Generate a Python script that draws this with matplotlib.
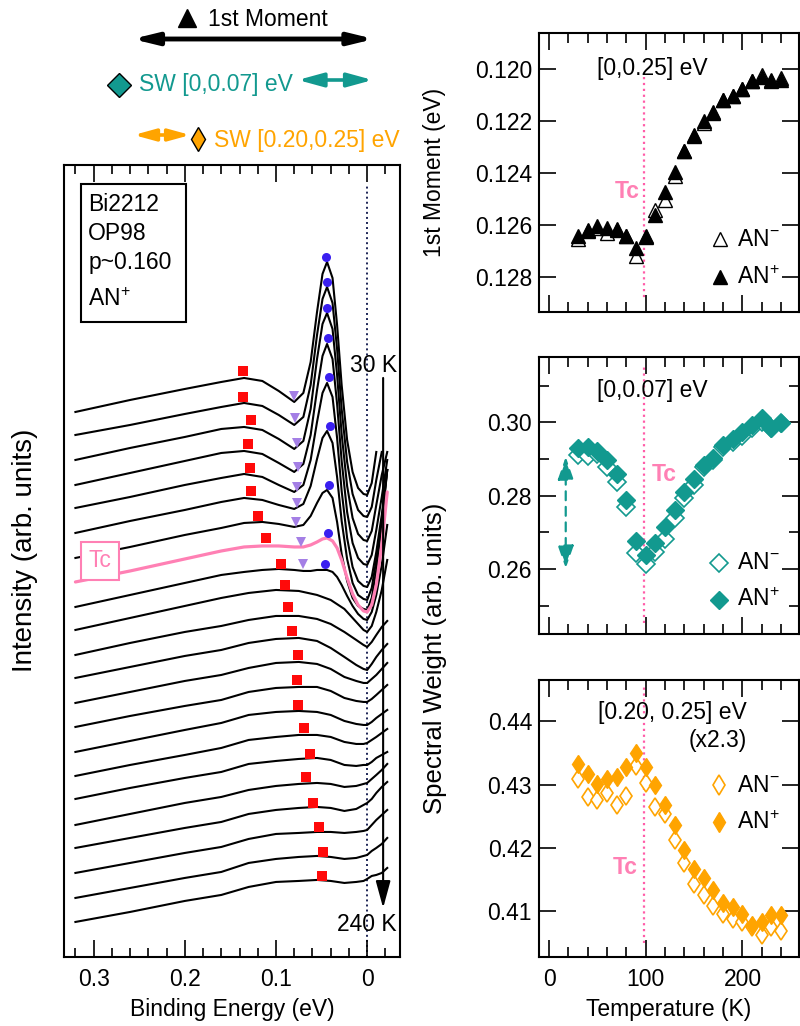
import numpy as np
import matplotlib
matplotlib.use("Agg")
import matplotlib.pyplot as plt
from matplotlib.transforms import blended_transform_factory
from matplotlib.patches import Rectangle
from matplotlib.ticker import MultipleLocator, FixedLocator

plt.rcParams['font.family'] = ['Liberation Sans', 'DejaVu Sans']
plt.rcParams['font.size'] = 16.5
plt.rcParams['mathtext.fontset'] = 'custom'
plt.rcParams['mathtext.rm'] = 'Liberation Sans'
plt.rcParams['mathtext.it'] = 'Liberation Sans:italic'
plt.rcParams['mathtext.bf'] = 'Liberation Sans:bold'
plt.rcParams['axes.linewidth'] = 1.5

nan = float('nan')

# ---------------- temperature-dependent quantities ----------------
T = [30, 40, 50, 60, 70, 80, 90, 100, 110, 120, 130, 140, 150, 160, 170, 180,
     190, 200, 210, 220, 230, 240]
Tc = 98

moment_plus = [0.12641, 0.12618, 0.12603, 0.12612, 0.12615, 0.12641, 0.12688, 0.12644,
               0.12560, 0.12474, 0.12397, 0.12317, 0.12256, 0.12201, 0.12169, 0.12118,
               0.12105, 0.12077, 0.12047, 0.12031, 0.12047, 0.12041]
moment_minus = [0.12656, 0.12624, 0.12612, 0.12631, 0.12618, 0.12644, 0.12721, 0.12646,
                0.12541, 0.12503, 0.12410, 0.12317, 0.12259, 0.12208, 0.12167, 0.12118,
                0.12105, 0.12077, 0.12047, 0.12022, 0.12041, 0.12035]

sw_low_plus = [0.2929, 0.2934, 0.2923, 0.2897, 0.2859, 0.2788, 0.2677, 0.2638, 0.2670,
               0.2715, 0.2761, 0.2809, 0.2845, 0.2884, 0.2902, 0.2938, 0.2956, 0.2975,
               0.2993, 0.3011, 0.2986, 0.2999]
sw_low_minus = [0.2911, 0.2908, 0.2914, 0.2879, 0.2838, 0.2770, 0.2645, 0.2615, 0.2647,
                0.2681, 0.2738, 0.2793, 0.2829, 0.2877, 0.2897, 0.2932, 0.2947, 0.2963,
                0.2984, 0.3002, 0.2986, 0.2997]

sw_high_plus = [0.4333, 0.4316, 0.4301, 0.4309, 0.4312, 0.4327, 0.4350, 0.4327, 0.4299,
                0.4267, 0.4236, 0.4196, 0.4167, 0.4153, 0.4134, 0.4113, 0.4107, 0.4095,
                0.4078, 0.4083, 0.4094, 0.4094]
sw_high_minus = [0.4309, 0.4281, 0.4275, 0.4286, 0.4267, 0.4282, 0.4329, 0.4302, 0.4265,
                 0.4253, 0.4213, 0.4176, 0.4143, 0.4125, 0.4108, 0.4096, 0.4087, 0.4083,
                 0.4075, 0.4062, 0.4075, 0.4069]

# ---------------- EDCs (offset stacked, arb. units) ----------------
E_sc = [0.32, 0.26, 0.20, 0.16, 0.135, 0.115, 0.097, 0.080, 0.070, 0.062, 0.055, 0.049,
        0.044, 0.038, 0.033, 0.028, 0.022, 0.016, 0.010, 0.004, 0.0, -0.005, -0.010,
        -0.016, -0.022]
I_030 = [545, 557, 568, 575, 579, 576, 566, 555, 564, 595, 645, 683, 695, 679, 632, 572, 517, 485, 469, 463, 462, 474, 505, nan, nan]
I_040 = [522, 532, 543, 550, 554, 551, 542, 532, 540, 572, 622, 658, 670, 654, 608, 548, 495, 463, 447, 441, 440, 450, 477, 505, nan]
I_050 = [497, 509, 520, 528, 530, 527, 518, 508, 516, 548, 598, 633, 644, 628, 582, 523, 471, 439, 423, 417, 416, 426, 452, 482, 505]
I_060 = [472, 484, 496, 504, 506, 503, 494, 485, 493, 522, 567, 601, 613, 598, 553, 496, 445, 414, 399, 393, 392, 402, 427, 460, 497]
I_070 = [449, 460, 472, 479, 483, 480, 472, 465, 472, 497, 535, 564, 574, 560, 519, 466, 419, 390, 376, 371, 370, 380, 405, 442, 487]
I_080 = [424, 436, 447, 455, 459, 457, 452, 448, 453, 471, 498, 519, 526, 514, 480, 436, 398, 374, 362, 358, 357, 369, 397, 437, 487]
I_090 = [399, 410, 422, 429, 434, 435, 433, 430, 432, 441, 454, 464, 467, 459, 435, 403, 376, 359, 351, 348, 347, 359, 387, 432, 487]
I_100 = [375, 386, 398, 406, 410, 411, 411, 410, 410, 412, 415, 418, 419, 416, 409, 397, 379, 363, 352, 346, 345, 352, 372, 412, 465]
I_110 = [350, 362, 374, 382, 385, 387, 388, 387, 386, 386, 387, 387, 387, 385, 380, 372, 361, 351, 343, 338, 337, 345, 362, 392, 432]

E_ns = [0.32, 0.26, 0.20, 0.16, 0.13, 0.10, 0.075, 0.055, 0.04, 0.025, 0.012, 0.004, 0.0,
        -0.005, -0.010, -0.016, -0.022]
I_120 = [327, 339, 351, 359, 364, 367, 366, 362, 357, 348, 335, 327, 325, 331, 345, 367, 397]
I_130 = [302, 314, 325, 331, 337, 341, 341, 338, 333, 325, 317, 312, 310, 315, 322, 330, 336]
I_140 = [279, 290, 301, 307, 314, 318, 319, 316, 309, 300, 292, 288, 287, 293, 300, 307, 313]
I_150 = [254, 265, 276, 282, 289, 294, 295, 293, 288, 280, 276, 274, 274, 278, 282, 288, 294]
I_160 = [230, 241, 251, 257, 265, 269, 270, 270, 266, 259, 256, 255, 255, 258, 262, 267, 272]
I_170 = [205, 216, 227, 234, 242, 245, 246, 245, 242, 236, 233, 232, 232, 235, 239, 243, 247]
I_180 = [181, 192, 202, 209, 217, 220, 222, 222, 220, 215, 213, 213, 214, 217, 220, 224, 228]
I_190 = [158, 169, 179, 185, 193, 196, 198, 199, 197, 192, 191, 192, 192, 195, 199, 202, 205]
I_200 = [132, 143, 154, 160, 167, 171, 173, 174, 173, 170, 171, 173, 174, 178, 182, 187, 193]
I_210 = [109, 119, 129, 135, 143, 147, 149, 150, 149, 146, 148, 152, 154, 158, 164, 170, 175]
I_220 = [84, 94, 104, 110, 118, 123, 124, 125, 125, 124, 125, 126, 127, 132, 137, 142, 147]
I_230 = [59, 69, 79, 85, 94, 98, 100, 101, 100, 98, 99, 101, 102, 106, 109, 113, 119]
I_240 = [35, 45, 56, 62, 70, 75, 76, 77, 76, 74, 75, 76, 78, 81, 82, 84, 89]

# feature markers: hump (red), dip (purple), peak (blue)
hump_E = [0.1358, 0.1358, 0.1271, 0.1308, 0.1286, 0.1271, 0.1199, 0.1107, 0.0943, 0.0904,
          0.0867, 0.0823, 0.0762, 0.0768, 0.0762, 0.0696, 0.0631, 0.0667, 0.0598, 0.0532,
          0.0484, 0.0495]
hump_I = [586, 560, 537, 513, 489, 466, 441, 419, 393, 372, 350, 326, 302, 277, 252, 229,
          203, 180, 154, 130, 105, 81]
dip_E = [0.0798, 0.0787, 0.0768, 0.0762, 0.0768, 0.0768, 0.0776, 0.0725, 0.0703]
dip_I = [561, 539, 514, 490, 470, 454, 435, 415, 393]
peak_E = [0.0448, 0.0440, 0.0440, 0.0434, 0.0423, 0.0412, 0.0423, 0.0434, 0.0467]
peak_I = [700, 675, 649, 619, 580, 531, 472, 424, 393]

# ---------------- colours ----------------
TEAL = '#12998f'
ORANGE = '#ffa400'
PINK = '#ff80b4'
PINK_LINE = '#ff5ca8'
RED = '#ff0a0a'
BLUE = '#3a1ff0'
PURPLE = '#a47fe5'

fig = plt.figure(figsize=(8, 10.26), dpi=100)

# ================= EDC panel =================
ax = fig.add_axes([0.0806, 0.0673, 0.4194, 0.7719])
ax.set_xlim(0.332, -0.036)
ax.set_ylim(0, 792)
ax.set_yticks([])
ax.xaxis.set_major_locator(FixedLocator([0.3, 0.2, 0.1, 0.0]))
ax.set_xticklabels(['0.3', '0.2', '0.1', '0'])
ax.xaxis.set_minor_locator(MultipleLocator(0.02))
ax.tick_params(which='both', direction='in', top=True, width=1.2)
ax.tick_params(which='major', length=12, pad=8)
ax.tick_params(which='minor', length=6.5)
ax.set_xlabel('Binding Energy (eV)', labelpad=5)

ax.axvline(0.0, ymin=0, ymax=0.975, color='#1c2455', ls=(0, (1, 1.6)), lw=1.4, zorder=1)

sc_curves = [I_030, I_040, I_050, I_060, I_070, I_080, I_090, I_100, I_110]
ns_curves = [I_120, I_130, I_140, I_150, I_160, I_170, I_180, I_190, I_200, I_210,
             I_220, I_230, I_240]
for k, I in enumerate(sc_curves):
    if k == 7:
        ax.plot(E_sc, I, color=PINK, lw=2.3, zorder=3, solid_capstyle='round')
    else:
        ax.plot(E_sc, I, color='black', lw=1.5, zorder=2)
for I in ns_curves:
    ax.plot(E_ns, I, color='black', lw=1.5, zorder=2)

ax.plot(hump_E, hump_I, 's', color=RED, ms=6.5, mew=0, zorder=5)
ax.plot(dip_E, dip_I, 'v', color=PURPLE, ms=7.5, mew=0, zorder=5)
ax.plot(peak_E, peak_I, 'o', color=BLUE, ms=6.5, mew=0, zorder=5)

# sample box
ax.add_patch(Rectangle((0.1989, 635), 0.1148, 138, fc='white', ec='black', lw=1.5, zorder=6))
for txt, yb in [('Bi2212', 745.5), ('OP98', 716.5), ('p~0.160', 687.5), ('AN$^{+}$', 650.5)]:
    ax.text(0.306, yb, txt, ha='left', va='baseline', zorder=7)

# Tc box
ax.add_patch(Rectangle((0.2721, 377), 0.0416, 38, fc='white', ec=PINK, lw=1.5, zorder=6))
ax.text(0.2929, 396, 'Tc', color=PINK, ha='center', va='center', zorder=7)

ax.text(-0.0328, 591, '30 K', ha='right', va='center', zorder=7)
ax.text(-0.0328, 32, '240 K', ha='right', va='center', zorder=7)
ax.annotate('', xy=(-0.0175, 49), xytext=(-0.0175, 579),
            arrowprops=dict(arrowstyle='-|>,head_length=1.1,head_width=0.3', lw=1.5,
                            color='black', mutation_scale=15, shrinkA=0, shrinkB=0),
            zorder=7)

fig.text(25 / 800, 1 - 550 / 1026, 'Intensity (arb. units)', rotation=90,
         ha='center', va='center', fontsize=20)

# -------- integration windows annotation (above EDC panel) --------
trans = blended_transform_factory(ax.transData, fig.transFigure)


def fy(py):
    return 1 - py / 1026


# window arrows: [0, 0.25], [0, 0.07], [0.20, 0.25] eV (tips pushed out by the stroke inset)
ax.annotate('', xy=(-0.0075, fy(39)), xytext=(0.2575, fy(39)), xycoords=trans, textcoords=trans,
            arrowprops=dict(arrowstyle='<|-|>,head_length=0.9,head_width=0.22', lw=3.5,
                            color='black', mutation_scale=16, shrinkA=0, shrinkB=0),
            annotation_clip=False)
ax.plot([0.1978], [fy(18)], '^', color='black', ms=13, transform=trans, clip_on=False)
ax.text(0.1749, fy(19), '1st Moment', transform=trans, ha='left', va='center')

ax.annotate('', xy=(-0.006, fy(80)), xytext=(0.076, fy(80)), xycoords=trans, textcoords=trans,
            arrowprops=dict(arrowstyle='<|-|>,head_length=0.95,head_width=0.26', lw=2.6,
                            color=TEAL, mutation_scale=16, shrinkA=0, shrinkB=0),
            annotation_clip=False)
ax.plot([0.2721], [fy(85)], 'D', color=TEAL, mec='black', mew=1.0, ms=12.3,
        transform=trans, clip_on=False)
ax.text(0.2503, fy(85), 'SW [0,0.07] eV', color=TEAL, transform=trans, ha='left', va='center')

ax.annotate('', xy=(0.194, fy(135)), xytext=(0.256, fy(135)), xycoords=trans, textcoords=trans,
            arrowprops=dict(arrowstyle='<|-|>,head_length=0.8,head_width=0.22', lw=2.6,
                            color=ORANGE, mutation_scale=16, shrinkA=0, shrinkB=0),
            annotation_clip=False)
ax.plot([0.1861], [fy(139)], 'd', color=ORANGE, mec='black', mew=1.0, ms=12.5,
        transform=trans, clip_on=False)
ax.text(0.1683, fy(140), 'SW [0.20,0.25] eV', color=ORANGE, transform=trans,
        ha='left', va='center')

# ================= right panels =================
ax1 = fig.add_axes([0.6738, 0.6959, 0.325, 0.2719])
ax2 = fig.add_axes([0.6738, 0.3821, 0.325, 0.2702])
ax3 = fig.add_axes([0.6738, 0.0675, 0.325, 0.2697])

for a in (ax1, ax2, ax3):
    a.set_xlim(-10.3, 258.5)
    a.xaxis.set_major_locator(FixedLocator([0, 100, 200]))
    a.xaxis.set_minor_locator(MultipleLocator(20))
    a.tick_params(which='both', direction='in', top=True, right=True, width=1.2)
    a.tick_params(which='major', length=12.5, pad=5)
    a.tick_params(which='minor', length=7)
ax1.tick_params(labelbottom=False)
ax2.tick_params(labelbottom=False)
ax3.tick_params(axis='x', pad=8)
ax3.set_xlabel('Temperature (K)', labelpad=5)

# top: first moment
ax1.set_ylim(0.12935, 0.11862)
ax1.set_yticks([0.120, 0.122, 0.124, 0.126, 0.128])
ax1.set_yticklabels(['0.120', '0.122', '0.124', '0.126', '0.128'])
ax1.plot([Tc, Tc], [0.1203, 0.1289], ls=':', color=PINK_LINE, lw=1.6, zorder=1)
ax1.plot(T, moment_minus, '^', mfc='white', mec='black', mew=1.0, ms=10.5, ls='none', zorder=3)
ax1.plot(T, moment_plus, '^', color='black', ms=10.5, ls='none', zorder=4)
ax1.text(0.4346, 0.8746, '[0,0.25] eV', transform=ax1.transAxes, ha='center', va='center')
ax1.text(0.3885, 0.4337, 'Tc', transform=ax1.transAxes, ha='right', va='center',
         color=PINK, fontweight='bold')
ax1.plot([0.696], [0.2616], '^', mfc='white', mec='black', mew=1.0, ms=10.5,
         transform=ax1.transAxes)
ax1.plot([0.696], [0.1254], '^', color='black', ms=10.5, transform=ax1.transAxes)
ax1.text(0.762, 0.2616, 'AN$^{-}$', transform=ax1.transAxes, ha='left', va='center')
ax1.text(0.762, 0.1254, 'AN$^{+}$', transform=ax1.transAxes, ha='left', va='center')
fig.text(435 / 800, 1 - 172 / 1026, '1st Moment (eV)', rotation=90, ha='center', va='center')

# middle: SW [0, 0.07]
ax2.set_ylim(0.2423, 0.3179)
ax2.set_yticks([0.26, 0.28, 0.30])
ax2.set_yticklabels(['0.26', '0.28', '0.30'])
ax2.yaxis.set_minor_locator(FixedLocator([0.25, 0.27, 0.29, 0.31]))
ax2.plot([Tc, Tc], [0.2453, 0.3152], ls=':', color=PINK_LINE, lw=1.6, zorder=1)
ax2.plot(T, sw_low_minus, 'D', mfc='white', mec=TEAL, mew=1.2, ms=9.5, ls='none', zorder=3)
ax2.plot(T, sw_low_plus, 'D', color=TEAL, ms=9.5, ls='none', zorder=4)
ax2.annotate('', xy=(17.3, 0.2602), xytext=(17.3, 0.2906),
             arrowprops=dict(arrowstyle='<|-|>,head_length=1.0,head_width=0.35',
                             lw=1.6, ls=(0, (4, 3)), color=TEAL, mutation_scale=14,
                             shrinkA=0, shrinkB=0))
ax2.text(0.4346, 0.88, '[0,0.07] eV', transform=ax2.transAxes, ha='center', va='center')
ax2.text(0.4346, 0.577, 'Tc', transform=ax2.transAxes, ha='left', va='center',
         color=PINK, fontweight='bold')
ax2.plot([0.692], [0.256], 'D', mfc='white', mec=TEAL, mew=1.2, ms=9.5, transform=ax2.transAxes)
ax2.plot([0.692], [0.1226], 'D', color=TEAL, ms=9.5, transform=ax2.transAxes)
ax2.text(0.762, 0.256, 'AN$^{-}$', transform=ax2.transAxes, ha='left', va='center')
ax2.text(0.762, 0.1226, 'AN$^{+}$', transform=ax2.transAxes, ha='left', va='center')

# bottom: SW [0.20, 0.25]
ax3.set_ylim(0.4028, 0.4465)
ax3.set_yticks([0.41, 0.42, 0.43, 0.44])
ax3.set_yticklabels(['0.41', '0.42', '0.43', '0.44'])
ax3.plot([Tc, Tc], [0.4049, 0.4454], ls=':', color=PINK_LINE, lw=1.6, zorder=1)
ax3.plot(T, sw_high_minus, 'd', mfc='white', mec=ORANGE, mew=1.2, ms=9.5, ls='none', zorder=3)
ax3.plot(T, sw_high_plus, 'd', color=ORANGE, ms=9.5, ls='none', zorder=4)
ax3.text(0.5115, 0.8844, '[0.20, 0.25] eV', transform=ax3.transAxes, ha='center', va='center')
ax3.text(0.80, 0.7832, '(x2.3)', transform=ax3.transAxes, ha='right', va='center')
ax3.text(0.3808, 0.3242, 'Tc', transform=ax3.transAxes, ha='right', va='center',
         color=PINK, fontweight='bold')
ax3.plot([0.692], [0.6205], 'd', mfc='white', mec=ORANGE, mew=1.2, ms=10, transform=ax3.transAxes)
ax3.plot([0.692], [0.4869], 'd', color=ORANGE, ms=10, transform=ax3.transAxes)
ax3.text(0.762, 0.6205, 'AN$^{-}$', transform=ax3.transAxes, ha='left', va='center')
ax3.text(0.762, 0.4869, 'AN$^{+}$', transform=ax3.transAxes, ha='left', va='center')
fig.text(435 / 800, 1 - 658 / 1026, 'Spectral Weight (arb. units)', rotation=90,
         ha='center', va='center', fontsize=18.5)

fig.savefig('out.png', dpi=100)
